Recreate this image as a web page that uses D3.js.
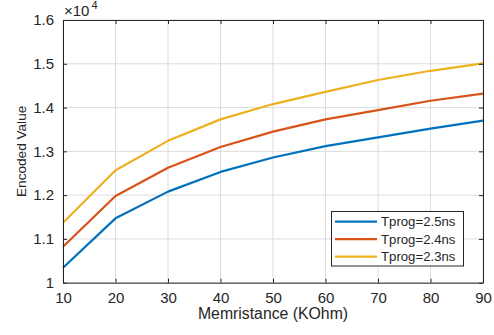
<!DOCTYPE html>
<html>
<head>
<meta charset="utf-8">
<script src="https://cdn.jsdelivr.net/npm/d3@7"></script>
<style>
  body { margin: 0; background: #fff; }
  svg text { font-family: "Liberation Sans", Arial, sans-serif; fill: #262626; }
</style>
</head>
<body>
<div id="chart"></div>
<script>
var width = 494, height = 335
var margin = {top: 20, right: 11, bottom: 52.3, left: 63}

// data (x10^4)
var memristance = [10, 20, 30, 40, 50, 60, 70, 80, 90]
var tprog25 = [10340, 11470, 12080, 12530, 12860, 13120, 13320, 13520, 13700]
var tprog24 = [10820, 11980, 12625, 13100, 13450, 13730, 13940, 14155, 14320]
var tprog23 = [11370, 12570, 13240, 13730, 14080, 14360, 14630, 14840, 15010]
var seriesNames = ['Tprog=2.5ns', 'Tprog=2.4ns', 'Tprog=2.3ns']
var colors = ['#0072BD', '#D95319', '#EDB120']
var xTicks = [10, 20, 30, 40, 50, 60, 70, 80, 90]
var yTicks = [10000, 11000, 12000, 13000, 14000, 15000, 16000]

var series = [tprog25, tprog24, tprog23]

var svg = d3.select('#chart')
  .append('svg')
  .attr('width', width)
  .attr('height', height)

var xScale = d3.scaleLinear()
  .domain([10, 90])
  .range([margin.left, width - margin.right])

var yScale = d3.scaleLinear()
  .domain([10000, 16000])
  .range([height - margin.bottom, margin.top])

var plotW = width - margin.left - margin.right
var plotH = height - margin.top - margin.bottom

// grid
var grid = svg.append('g').attr('class', 'grid')
grid.selectAll('.vgrid')
  .data(xTicks)
  .enter()
  .append('line')
  .attr('x1', d => xScale(d))
  .attr('x2', d => xScale(d))
  .attr('y1', margin.top)
  .attr('y2', height - margin.bottom)
  .style('stroke', '#dcdcdc')
  .style('stroke-width', 1)
grid.selectAll('.hgrid')
  .data(yTicks)
  .enter()
  .append('line')
  .attr('x1', margin.left)
  .attr('x2', width - margin.right)
  .attr('y1', d => yScale(d))
  .attr('y2', d => yScale(d))
  .style('stroke', '#dcdcdc')
  .style('stroke-width', 1)

// lines
var line = d3.line()
  .x((d, i) => xScale(memristance[i]))
  .y(d => yScale(d))

svg.append('g')
  .attr('class', 'lines')
  .selectAll('path')
  .data(series)
  .enter()
  .append('path')
  .attr('d', d => line(d))
  .style('fill', 'none')
  .style('stroke', (d, i) => colors[i])
  .style('stroke-width', 2.2)
  .style('stroke-linejoin', 'round')

// axes (ticks inward, box on all sides)
function styleAxis(g) {
  g.select('.domain').style('stroke', '#262626').style('stroke-width', 1)
  g.selectAll('.tick line').style('stroke', '#262626')
}

var xAxis = d3.axisBottom(xScale)
  .tickValues(xTicks)
  .tickSizeInner(-4)
  .tickSizeOuter(0)
  .tickPadding(10)
  .tickFormat(d => d)

svg.append('g')
  .attr('transform', `translate(0,${height - margin.bottom})`)
  .attr('class', 'x-axis')
  .call(xAxis)
  .call(styleAxis)
  .selectAll('text')
  .style('font-size', '15px')
  .style('fill', '#262626')

svg.append('g')
  .attr('transform', `translate(0,${margin.top})`)
  .call(d3.axisTop(xScale).tickValues(xTicks).tickSizeInner(-4).tickSizeOuter(0).tickFormat(''))
  .call(styleAxis)

var yAxis = d3.axisLeft(yScale)
  .tickValues(yTicks)
  .tickSizeInner(-4)
  .tickSizeOuter(0)
  .tickPadding(9)
  .tickFormat(d => d3.format('')(d / 10000))

svg.append('g')
  .attr('transform', `translate(${margin.left},0)`)
  .attr('class', 'y-axis')
  .call(yAxis)
  .call(styleAxis)
  .selectAll('text')
  .style('font-size', '15px')
  .style('fill', '#262626')

svg.append('g')
  .attr('transform', `translate(${width - margin.right},0)`)
  .call(d3.axisRight(yScale).tickValues(yTicks).tickSizeInner(-4).tickSizeOuter(0).tickFormat(''))
  .call(styleAxis)

// exponent label
var expo = svg.append('text')
  .attr('x', margin.left + 1)
  .attr('y', 16)
  .style('font-size', '15px')
expo.append('tspan').text('\u00d710')
expo.append('tspan').attr('dy', -7).attr('dx', 2).style('font-size', '11px').text('4')

// axis labels
svg.append('text')
  .attr('x', margin.left + plotW / 2)
  .attr('y', 319)
  .style('text-anchor', 'middle')
  .style('font-size', '15.8px')
  .text('Memristance (KOhm)')

svg.append('text')
  .attr('transform', `translate(26,${margin.top + plotH / 2}) rotate(-90)`)
  .style('text-anchor', 'middle')
  .style('font-size', '13.6px')
  .text('Encoded Value')

// legend
var legend = svg.append('g').attr('class', 'legend')
legend.append('rect')
  .attr('x', 331.5)
  .attr('y', 211.5)
  .attr('width', 132)
  .attr('height', 54.5)
  .style('fill', '#fff')
  .style('stroke', '#262626')
  .style('stroke-width', 1)

var items = legend.selectAll('.item')
  .data(seriesNames)
  .enter()
  .append('g')
  .attr('transform', (d, i) => `translate(0,${221.7 + i * 17.5})`)

items.append('line')
  .attr('x1', 335)
  .attr('x2', 377)
  .style('stroke', (d, i) => colors[i])
  .style('stroke-width', 2.2)

items.append('text')
  .attr('x', 381)
  .attr('dy', '0.36em')
  .style('font-size', '13.2px')
  .text(d => d)
</script>
</body>
</html>
